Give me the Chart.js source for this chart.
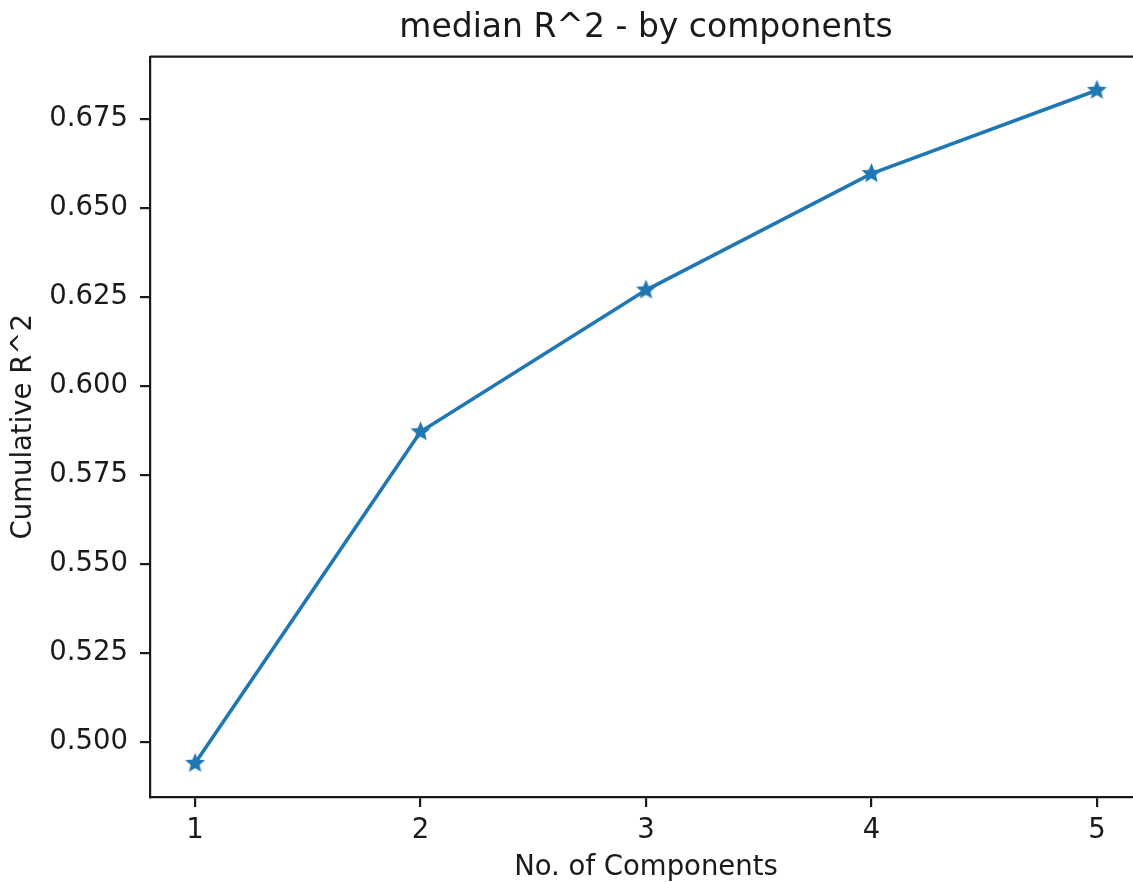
<!DOCTYPE html>
<html>
<head>
<meta charset="utf-8">
<script src="https://cdn.jsdelivr.net/npm/chart.js@4/dist/chart.umd.min.js"></script>
<style>
html,body{margin:0;padding:0;background:#fff;overflow:hidden;width:1133px;height:882px;}
canvas{display:block;}
</style>
</head>
<body>
<canvas id="c" width="1292" height="882" style="width:1292px;height:882px"></canvas>
<script>
const components = [1, 2, 3, 4, 5];
const medianR2 = [0.4941, 0.5872, 0.6270, 0.6597, 0.6831];
const yTicksStep = 0.025;
const titleText = 'median R^2 - by components';
const xLabel = 'No. of Components';
const yLabel = 'Cumulative R^2';

const FONT = "'DejaVu Sans', sans-serif";
const BLUE = '#1f77b4';
const INK = '#1a1a1a';

function starImage(r, color) {
  const s = Math.ceil(r * 2 + 2);
  const cv = document.createElement('canvas');
  cv.width = s; cv.height = s;
  const g = cv.getContext('2d');
  g.fillStyle = color;
  g.beginPath();
  const cx = s / 2, cy = s / 2, ri = r * 0.45;
  for (let i = 0; i < 10; i++) {
    const rad = i % 2 === 0 ? r : ri;
    const a = -Math.PI / 2 + i * Math.PI / 5;
    const x = cx + rad * Math.cos(a), y = cy + rad * Math.sin(a);
    if (i === 0) g.moveTo(x, y); else g.lineTo(x, y);
  }
  g.closePath();
  g.fill();
  return cv;
}
const star = starImage(10.5, BLUE);

const frame = {
  id: 'frame',
  afterDraw(chart) {
    const {ctx, chartArea: a} = chart;
    ctx.save();
    ctx.strokeStyle = INK;
    ctx.lineWidth = 2.2;
    ctx.beginPath();
    ctx.moveTo(a.left, a.top); ctx.lineTo(a.right, a.top); ctx.lineTo(a.right, a.bottom);
    ctx.stroke();
    ctx.restore();
  }
};

const points = components.map((c, i) => ({x: c, y: medianR2[i]}));
const ymin = Math.min(...medianR2), ymax = Math.max(...medianR2);
const ypad = (ymax - ymin) * 0.05;
const xpad = (components[components.length - 1] - components[0]) * 0.05;

new Chart(document.getElementById('c'), {
  type: 'line',
  data: {
    datasets: [{
      data: points,
      borderColor: BLUE,
      backgroundColor: BLUE,
      borderWidth: 3.6,
      pointStyle: star,
      pointRadius: 10,
      pointHoverRadius: 10,
      tension: 0,
      fill: false
    }]
  },
  options: {
    responsive: false,
    devicePixelRatio: 1,
    animation: false,
    layout: {padding: 0},
    plugins: {
      legend: {display: false},
      tooltip: {enabled: false},
      title: {
        display: true,
        text: titleText,
        color: INK,
        font: {family: FONT, size: 33, weight: 'normal'},
        padding: {top: 9, bottom: 8}
      }
    },
    scales: {
      x: {
        type: 'linear',
        min: components[0] - xpad,
        max: components[components.length - 1] + xpad,
        afterFit: s => { s.height = 85; },
        border: {display: true, color: INK, width: 2.2},
        grid: {drawOnChartArea: false, drawTicks: true, tickLength: 10, color: INK, lineWidth: 2.2},
        ticks: {
          stepSize: 1,
          includeBounds: false,
          color: INK,
          padding: 7,
          maxRotation: 0,
          font: {family: FONT, size: 27.5},
          callback: v => String(v)
        },
        title: {
          display: true,
          text: xLabel,
          color: INK,
          font: {family: FONT, size: 27.5},
          padding: {top: 0, bottom: -2}
        }
      },
      y: {
        type: 'linear',
        min: ymin - ypad,
        max: ymax + ypad,
        afterFit: s => { s.width = 150; },
        border: {display: true, color: INK, width: 2.2},
        grid: {drawOnChartArea: false, drawTicks: true, tickLength: 10, color: INK, lineWidth: 2.2},
        ticks: {
          stepSize: yTicksStep,
          includeBounds: false,
          color: INK,
          padding: 12,
          font: {family: FONT, size: 27.5},
          callback: v => Number(v).toFixed(3)
        },
        title: {
          display: true,
          text: yLabel,
          color: INK,
          font: {family: FONT, size: 27.5},
          padding: {top: 7, bottom: 0}
        }
      },
      y2: {
        type: 'linear',
        position: 'right',
        display: true,
        afterFit: s => { s.width = 150; },
        border: {display: false},
        grid: {display: false},
        ticks: {display: false}
      }
    }
  },
  plugins: [frame]
});
</script>
</body>
</html>
